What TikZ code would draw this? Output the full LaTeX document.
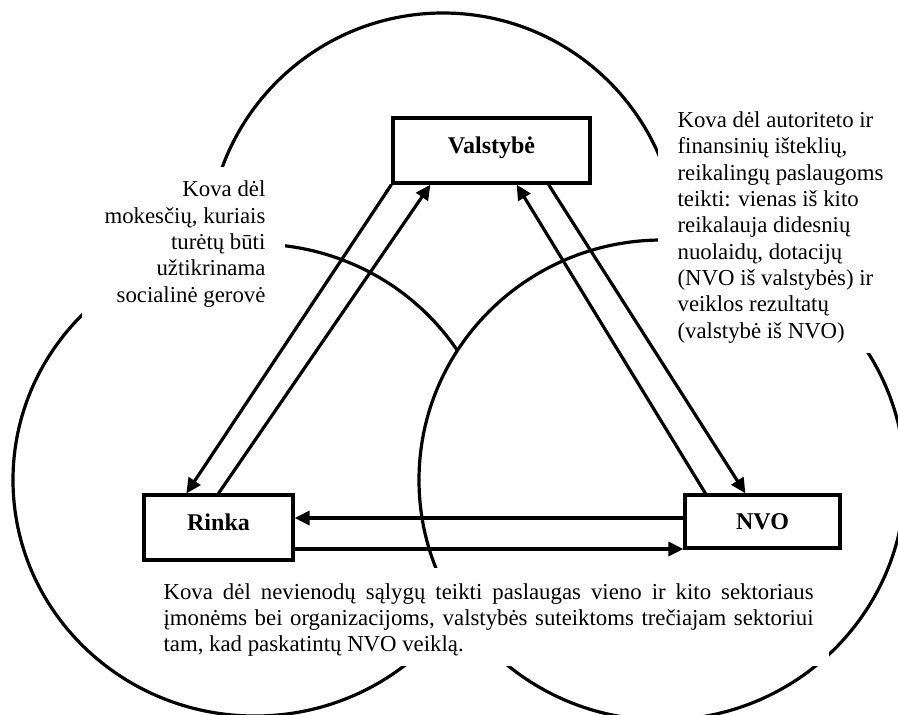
\documentclass[tikz,border=0pt]{standalone}
\usepackage{fontspec}
\setmainfont{Liberation Serif}
\usetikzlibrary{arrows.meta}

\begin{document}
\begin{tikzpicture}[x=0.5pt,y=-0.5pt,line width=1.6pt,
		sektorius/.style={draw, fill=white, inner sep=0pt, font=\fontsize{12}{14}\selectfont\bfseries, text height=8pt, text depth=5.5pt},
		kova/.style={inner sep=0pt, font=\fontsize{11.4}{13.15}\selectfont},
		rodykle/.style={-{Triangle[length=7.5pt,width=7pt]}}]
		\useasboundingbox (0,0) rectangle (898,714);
		
		\filldraw[fill=white] (443,248) circle [radius=117.5pt];
		\filldraw[fill=white] (255,480) ellipse [x radius=121pt, y radius=118pt];
		\filldraw[fill=white] (662,480) ellipse [x radius=121.5pt, y radius=120pt];
		
		\fill[white] (82,167) rectangle (285,320);
		\fill[white] (658,100) rectangle (898,353);
		\fill[white] (145,568) rectangle (829,666);
		
		% paskutines eilutes pagrindas
		\node[kova, anchor=base east, align=right] (mokesciai) at (267,302) {Kova dėl\\ mokesčių, kuriais\\ turėtų būti\\ užtikrinama\\ socialinė gerovė};
		\node[kova, anchor=base west, align=left] (autoritetas) at (676,338) {Kova dėl autoriteto ir\\ finansinių išteklių,\\ reikalingų paslaugoms\\ teikti: vienas iš kito\\ reikalauja didesnių\\ nuolaidų, dotacijų\\ (NVO iš valstybės) ir\\ veiklos rezultatų\\ (valstybė iš NVO)};
		\node[kova, anchor=base west, text width=325pt, align=justify] (salygos) at (162,599) {Kova dėl nevienodų sąlygų teikti paslaugas vieno ir kito sektoriaus\linebreak įmonėms bei organizacijoms, valstybės suteiktoms trečiajam sektoriui\linebreak tam, kad paskatintų NVO veiklą.};
		
		\node[sektorius, minimum width=98.5pt, minimum height=32.5pt] (valst) at (491.5,150.5) {Valstybė};
		\node[sektorius, minimum width=74.5pt, minimum height=32.5pt] (rinka) at (218.5,527.5) {Rinka};
		\node[sektorius, minimum width=77.5pt, minimum height=26.5pt, text depth=0pt] (nvo) at (762.5,521.5) {NVO};
		
		\draw[rodykle] (valst.south west) -- ([xshift=22pt]rinka.north west);
		\draw[rodykle] (rinka.north) -- ([xshift=19.5pt]valst.south west);
		\draw[rodykle] ([xshift=11pt]nvo.north west) -- ([xshift=-37.5pt]valst.south east);
		\draw[rodykle] ([xshift=-21.5pt]valst.south east) -- ([xshift=31pt]nvo.north west);
		\draw[rodykle] ([yshift=1.75pt]nvo.west) -- ([yshift=1.75pt]nvo.west -| rinka.east);
		\draw[rodykle] ([yshift=-10.75pt]rinka.east) -- ([yshift=-10.75pt]rinka.east -| nvo.west);
	\end{tikzpicture}
\end{document}
